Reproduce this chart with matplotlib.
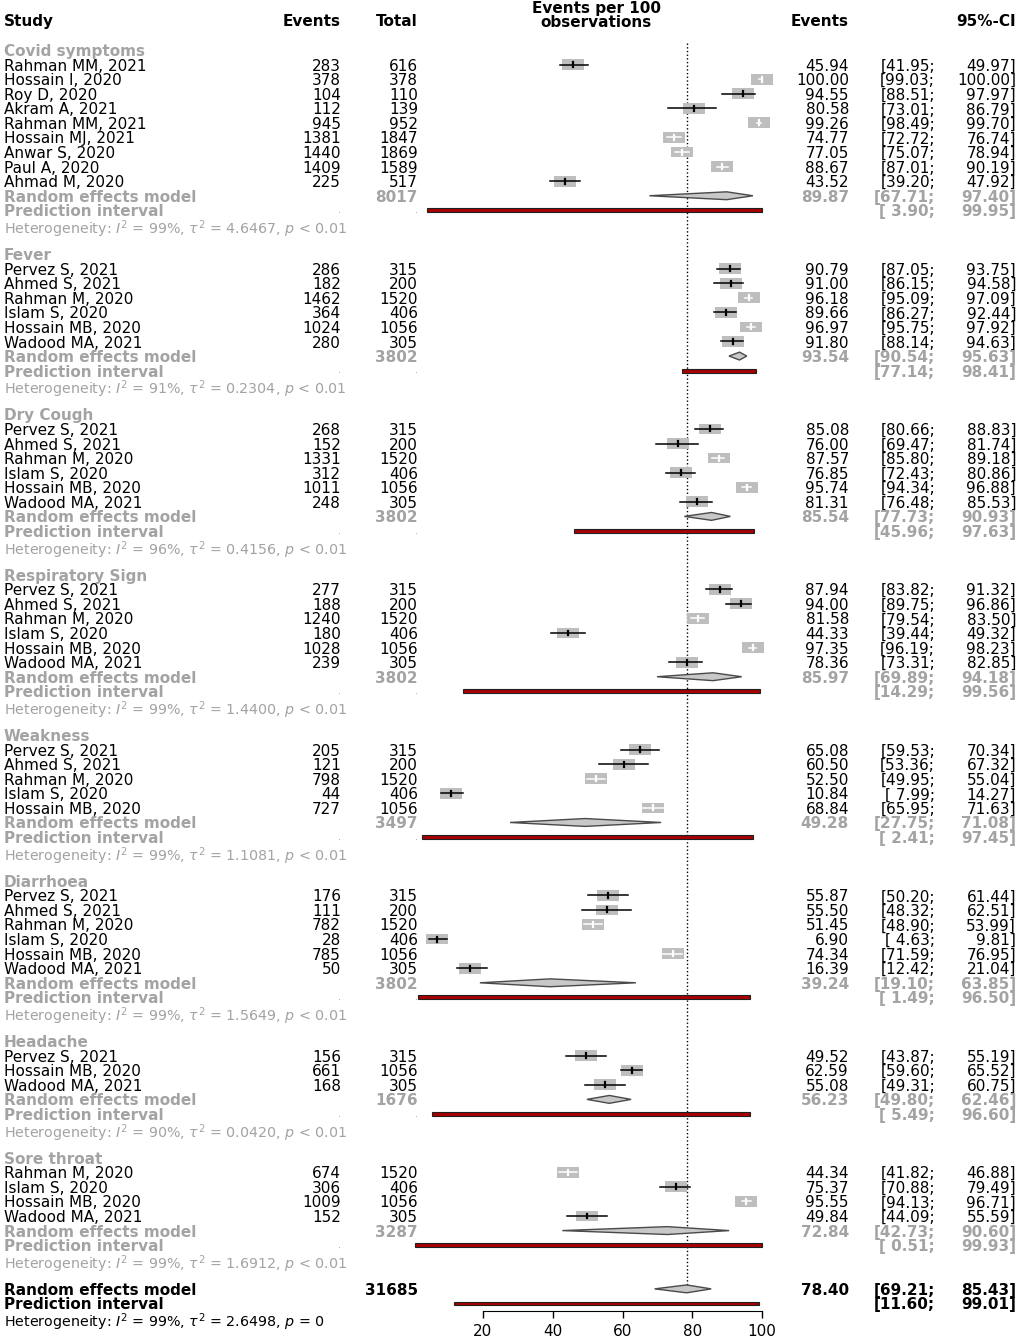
import matplotlib.pyplot as plt
from matplotlib.patches import Rectangle, Polygon

# ---- data ----
groups = ['Covid symptoms', 'Fever', 'Dry Cough', 'Respiratory Sign',
          'Weakness', 'Diarrhoea', 'Headache', 'Sore throat']

six = ['Pervez S, 2021', 'Ahmed S, 2021', 'Rahman M, 2020', 'Islam S, 2020',
       'Hossain MB, 2020', 'Wadood MA, 2021']
studies = [
    ['Rahman MM, 2021', 'Hossain I, 2020', 'Roy D, 2020', 'Akram A, 2021',
     'Rahman MM, 2021', 'Hossain MJ, 2021', 'Anwar S, 2020', 'Paul A, 2020',
     'Ahmad M, 2020'],
    six, six, six, six[:5], six,
    ['Pervez S, 2021', 'Hossain MB, 2020', 'Wadood MA, 2021'],
    ['Rahman M, 2020', 'Islam S, 2020', 'Hossain MB, 2020', 'Wadood MA, 2021'],
]
events = [[283, 378, 104, 112, 945, 1381, 1440, 1409, 225],
          [286, 182, 1462, 364, 1024, 280],
          [268, 152, 1331, 312, 1011, 248],
          [277, 188, 1240, 180, 1028, 239],
          [205, 121, 798, 44, 727],
          [176, 111, 782, 28, 785, 50],
          [156, 661, 168],
          [674, 306, 1009, 152]]
totals = [[616, 378, 110, 139, 952, 1847, 1869, 1589, 517],
          [315, 200, 1520, 406, 1056, 305],
          [315, 200, 1520, 406, 1056, 305],
          [315, 200, 1520, 406, 1056, 305],
          [315, 200, 1520, 406, 1056],
          [315, 200, 1520, 406, 1056, 305],
          [315, 1056, 305],
          [1520, 406, 1056, 305]]
rate = [[45.94, 100.00, 94.55, 80.58, 99.26, 74.77, 77.05, 88.67, 43.52],
        [90.79, 91.00, 96.18, 89.66, 96.97, 91.80],
        [85.08, 76.00, 87.57, 76.85, 95.74, 81.31],
        [87.94, 94.00, 81.58, 44.33, 97.35, 78.36],
        [65.08, 60.50, 52.50, 10.84, 68.84],
        [55.87, 55.50, 51.45, 6.90, 74.34, 16.39],
        [49.52, 62.59, 55.08],
        [44.34, 75.37, 95.55, 49.84]]
ci_low = [[41.95, 99.03, 88.51, 73.01, 98.49, 72.72, 75.07, 87.01, 39.20],
          [87.05, 86.15, 95.09, 86.27, 95.75, 88.14],
          [80.66, 69.47, 85.80, 72.43, 94.34, 76.48],
          [83.82, 89.75, 79.54, 39.44, 96.19, 73.31],
          [59.53, 53.36, 49.95, 7.99, 65.95],
          [50.20, 48.32, 48.90, 4.63, 71.59, 12.42],
          [43.87, 59.60, 49.31],
          [41.82, 70.88, 94.13, 44.09]]
ci_high = [[49.97, 100.00, 97.97, 86.79, 99.70, 76.74, 78.94, 90.19, 47.92],
           [93.75, 94.58, 97.09, 92.44, 97.92, 94.63],
           [88.83, 81.74, 89.18, 80.86, 96.88, 85.53],
           [91.32, 96.86, 83.50, 49.32, 98.23, 82.85],
           [70.34, 67.32, 55.04, 14.27, 71.63],
           [61.44, 62.51, 53.99, 9.81, 76.95, 21.04],
           [55.19, 65.52, 60.75],
           [46.88, 79.49, 96.71, 55.59]]

re_total = [8017, 3802, 3802, 3802, 3497, 3802, 1676, 3287]
re_rate = [89.87, 93.54, 85.54, 85.97, 49.28, 39.24, 56.23, 72.84]
re_low = [67.71, 90.54, 77.73, 69.89, 27.75, 19.10, 49.80, 42.73]
re_high = [97.40, 95.63, 90.93, 94.18, 71.08, 63.85, 62.46, 90.60]
pi_low = [3.90, 77.14, 45.96, 14.29, 2.41, 1.49, 5.49, 0.51]
pi_high = [99.95, 98.41, 97.63, 99.56, 97.45, 96.50, 96.60, 99.93]
i2 = [99, 91, 96, 99, 99, 99, 90, 99]
tau2 = [4.6467, 0.2304, 0.4156, 1.4400, 1.1081, 1.5649, 0.0420, 1.6912]

overall_total = 31685
overall_rate = 78.40
overall_ci = [69.21, 85.43]
overall_pi = [11.60, 99.01]
overall_i2 = 99
overall_tau2 = 2.6498

x_ticks = [20, 40, 60, 80, 100]

# ---- layout (pixels of a 1018x1339 canvas) ----
W, H = 1018, 1339
X0_PX, PX_PER_UNIT = 483, 3.4875   # pixel of value 20, pixels per unit
ROW0_PX, ROW_PX = 50, 14.575
GREY = '#a3a3a3'
BOX = '#bebebe'
FS = 11
FS_HET = 10.3


def xs(px):
    return 20 + (px - X0_PX) / PX_PER_UNIT


def rows(py):
    return (py - ROW0_PX) / ROW_PX


fig = plt.figure(figsize=(W / 100, H / 100), dpi=100)
ax = fig.add_axes([0, 0, 1, 1])
ax.set_xlim(xs(0), xs(W))
ax.set_ylim(rows(H), rows(0))
ax.axis('off')

BOX_HW = 11 / PX_PER_UNIT
BOX_HH = 0.37
WHITE_LIMIT = 2.9
DIA_HH = 0.27


def txt(px, r, s, ha='left', color='black', bold=False, size=FS):
    ax.text(xs(px), r, s, ha=ha, va='center_baseline', fontsize=size,
            color=color, fontweight='bold' if bold else 'normal')


def ci_text(r, est, lo, hi, color='black', bold=False, show_est=True):
    if show_est:
        txt(849, r, f'{est:.2f}', ha='right', color=color, bold=bold)
    txt(935, r, f'[{lo:5.2f};', ha='right', color=color, bold=bold)
    txt(1016, r, f'{hi:.2f}]', ha='right', color=color, bold=bold)


def diamond(r, est, lo, hi):
    ax.add_patch(Polygon([(lo, r), (est, r - DIA_HH), (hi, r), (est, r + DIA_HH)],
                         closed=True, fc='#c8c8c8', ec='#4a4a4a', lw=1, zorder=3))


def pred_bar(r, lo, hi):
    ax.add_patch(Rectangle((lo, r - 0.13), hi - lo, 0.26, fc='#a80000',
                           ec='#202020', lw=0.8, zorder=3))


def het(r, i2v, t2, p, color):
    s = (r'Heterogeneity: $I^2$ = ' + f'{i2v}%, ' + r'$\tau^2$ = '
         + f'{t2:.4f}, ' + r'$p$ ' + p)
    txt(4, r + 0.08, s, color=color, size=FS_HET)


# header
for label, px, ha in [('Study', 4, 'left'), ('Events', 341, 'right'),
                      ('Total', 418, 'right'), ('Events', 849, 'right'),
                      ('95%-CI', 1016, 'right')]:
    txt(px, rows(20), label, ha=ha, bold=True)
txt(596, rows(7), 'Events per 100', ha='center', bold=True)
txt(596, rows(21), 'observations', ha='center', bold=True)

r = 0
for g, name in enumerate(groups):
    txt(4, r, name, color=GREY, bold=True)
    r += 1
    for i, study in enumerate(studies[g]):
        est, lo, hi = rate[g][i], ci_low[g][i], ci_high[g][i]
        txt(4, r, study)
        txt(341, r, str(events[g][i]), ha='right')
        txt(418, r, str(totals[g][i]), ha='right')
        ci_text(r, est, lo, hi)
        ax.add_patch(Rectangle((est - BOX_HW, r - BOX_HH), 2 * BOX_HW, 2 * BOX_HH,
                               fc=BOX, ec='none', zorder=2))
        inside = (est - lo) < WHITE_LIMIT and (hi - est) < WHITE_LIMIT
        lc = 'white' if inside else 'black'
        ax.plot([lo, hi], [r, r], color=lc, lw=1.1, zorder=4)
        ax.plot([est, est], [r - 0.17, r + 0.17], color=lc, lw=1.6, zorder=4)
        r += 1
    txt(4, r, 'Random effects model', color=GREY, bold=True)
    txt(418, r, str(re_total[g]), ha='right', color=GREY, bold=True)
    ci_text(r, re_rate[g], re_low[g], re_high[g], color=GREY, bold=True)
    diamond(r, re_rate[g], re_low[g], re_high[g])
    r += 1
    txt(4, r, 'Prediction interval', color=GREY, bold=True)
    txt(341, r - 0.1, '.', ha='right', color=GREY, size=7)
    txt(418, r - 0.1, '.', ha='right', color=GREY, size=7)
    ci_text(r, 0, pi_low[g], pi_high[g], color=GREY, bold=True, show_est=False)
    pred_bar(r, pi_low[g], pi_high[g])
    r += 1
    het(r, i2[g], tau2[g], '< 0.01', GREY)
    r += 2

# overall
txt(4, r, 'Random effects model', bold=True)
txt(418, r, str(overall_total), ha='right', bold=True)
ci_text(r, overall_rate, overall_ci[0], overall_ci[1], bold=True)
diamond(r, overall_rate, overall_ci[0], overall_ci[1])
ax.plot([overall_rate, overall_rate], [rows(43), r - DIA_HH], color='black',
        ls=':', lw=1, zorder=1)
r += 1
txt(4, r, 'Prediction interval', bold=True)
ci_text(r, 0, overall_pi[0], overall_pi[1], bold=True, show_est=False)
pred_bar(r, overall_pi[0], overall_pi[1])
r += 1
het(r, overall_i2, overall_tau2, '= 0', 'black')

# x axis
axx = fig.add_axes([0, 1 - 1311 / H, 1, 0.0001])
axx.set_xlim(ax.get_xlim())
axx.patch.set_alpha(0)
for side in ['top', 'left', 'right']:
    axx.spines[side].set_visible(False)
axx.spines['bottom'].set_bounds(x_ticks[0], x_ticks[-1])
axx.set_yticks([])
axx.set_xticks(x_ticks)
axx.tick_params(axis='x', direction='out', length=5, width=1, pad=4,
                labelsize=FS)

fig.savefig('out.png', dpi=100)
